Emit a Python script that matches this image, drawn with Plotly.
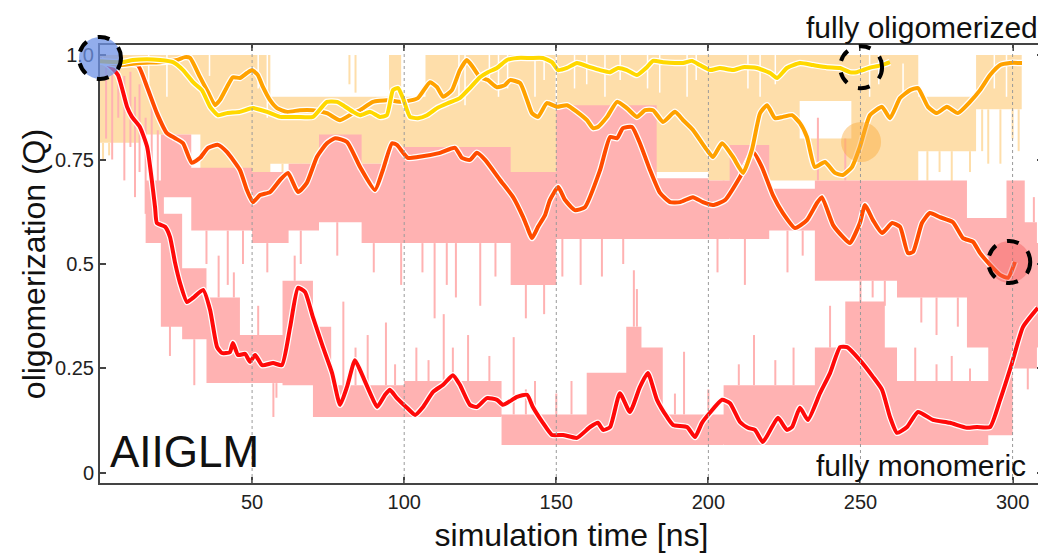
import plotly.graph_objects as go

# ---------------- data ----------------
x_range = [0, 310]
y_range = [-0.024, 1.024]
x_ticks = [50, 100, 150, 200, 250, 300]
y_ticks = [0, 0.25, 0.5, 0.75, 1.0]
y_ticktext = ["0", "0.25", "0.5", "0.75", "1.0"]

# smoothed traces: (time ns, Q)
red_line = [(0, 0.99), (3, 0.975), (5.9, 0.952), (8.9, 0.876), (10.5, 0.852), (13.1, 0.828), (15.5, 0.78),
            (18.1, 0.636), (18.7, 0.598), (21.4, 0.589), (23.0, 0.565), (24.7, 0.502), (26.3, 0.455),
            (28.6, 0.409), (30.6, 0.419), (33.9, 0.438), (36.2, 0.39), (38.5, 0.301), (40.1, 0.287),
            (42.7, 0.289), (43.7, 0.311), (45.4, 0.282), (47.7, 0.285), (49.3, 0.266), (51.0, 0.282),
            (53.3, 0.258), (56.9, 0.263), (59.8, 0.258), (62.5, 0.349), (65.1, 0.443), (67.4, 0.433),
            (70.0, 0.373), (73.3, 0.301), (76.3, 0.239), (78.9, 0.163), (81.2, 0.206), (83.8, 0.27),
            (85.5, 0.246), (88.8, 0.191), (91.1, 0.158), (93.7, 0.187), (95.3, 0.199), (97.6, 0.179),
            (100.9, 0.156), (103.6, 0.139), (106.2, 0.158), (109.5, 0.194), (112.8, 0.211), (116.0, 0.234),
            (118.3, 0.211), (121.6, 0.163), (123.9, 0.158), (127.2, 0.179), (130.5, 0.175), (132.5, 0.163),
            (137.1, 0.182), (140.4, 0.187), (142.3, 0.158), (145.6, 0.12), (148.6, 0.091), (152.2, 0.091),
            (156.8, 0.084), (161.1, 0.11), (163.7, 0.12), (165.4, 0.103), (167.7, 0.11), (170.9, 0.191),
            (174.2, 0.146), (177.5, 0.206), (180.1, 0.239), (183.1, 0.175), (186.4, 0.134), (188.4, 0.115),
            (193.0, 0.11), (195.6, 0.086), (197.9, 0.12), (200.5, 0.144), (204.5, 0.175), (207.1, 0.167),
            (210.4, 0.122), (213.0, 0.108), (215.3, 0.103), (217.9, 0.074), (220.9, 0.11), (222.9, 0.132),
            (225.8, 0.103), (227.5, 0.11), (230.1, 0.156), (232.7, 0.127), (236.7, 0.191), (240.0, 0.239),
            (243.3, 0.301), (245.6, 0.301), (249.8, 0.27), (254.1, 0.23), (257.1, 0.199), (259.7, 0.134),
            (262.0, 0.096), (265.3, 0.11), (268.9, 0.146), (273.8, 0.127), (279.4, 0.12), (285.0, 0.108),
            (288.3, 0.11), (292.6, 0.11), (295.9, 0.175), (299.8, 0.263), (303.4, 0.349), (308.3, 0.395)]

orange_red_line = [(0, 0.985), (8, 0.98), (12.5, 0.975), (15.5, 0.923), (18.7, 0.861), (22.0, 0.813),
                   (24.7, 0.801), (27.3, 0.789), (30.2, 0.742), (32.9, 0.754), (35.5, 0.778), (38.8, 0.785),
                   (41.7, 0.768), (46.0, 0.725), (48.3, 0.677), (50.3, 0.648), (52.6, 0.665), (55.9, 0.672),
                   (59.2, 0.701), (61.8, 0.718), (65.1, 0.672), (68.0, 0.694), (71.3, 0.756), (74.6, 0.789),
                   (77.3, 0.801), (81.2, 0.792), (85.5, 0.732), (90.4, 0.677), (93.0, 0.725), (96.0, 0.789),
                   (97.6, 0.785), (101.2, 0.754), (104.5, 0.756), (111.8, 0.766), (116.7, 0.778), (119.0, 0.754),
                   (121.6, 0.749), (123.9, 0.766), (126.6, 0.749), (131.5, 0.701), (135.8, 0.66), (139.1, 0.612),
                   (140.4, 0.589), (142.0, 0.562), (144.0, 0.589), (146.3, 0.617), (147.9, 0.653), (150.6, 0.684),
                   (152.9, 0.653), (156.1, 0.629), (159.4, 0.636), (164.4, 0.725), (167.7, 0.804), (170.0, 0.801),
                   (171.9, 0.825), (174.9, 0.828), (177.5, 0.789), (180.8, 0.725), (184.1, 0.67), (187.4, 0.648),
                   (190.7, 0.648), (194.9, 0.66), (198.2, 0.648), (201.5, 0.641), (205.5, 0.653), (210.4, 0.708),
                   (214.7, 0.768), (217.6, 0.732), (221.2, 0.665), (224.5, 0.622), (228.5, 0.586), (232.4, 0.605),
                   (235.7, 0.646), (237.3, 0.66), (241.0, 0.593), (244.2, 0.565), (246.5, 0.55), (249.8, 0.598),
                   (251.5, 0.641), (254.1, 0.605), (257.1, 0.574), (260.4, 0.598), (263.0, 0.589), (265.6, 0.526),
                   (267.3, 0.529), (270.2, 0.598), (272.8, 0.622), (276.1, 0.612), (280.4, 0.6), (283.7, 0.562),
                   (287.0, 0.553), (289.3, 0.526), (292.6, 0.498), (295.9, 0.474), (298.5, 0.467), (300.8, 0.505)]

orange_line = [(0, 0.985), (6.6, 0.976), (13.1, 0.981), (19.7, 0.983), (25.3, 0.988), (27.9, 0.995),
               (29.6, 0.993), (32.9, 0.947), (35.5, 0.911), (37.8, 0.88), (39.4, 0.892), (41.7, 0.923),
               (43.7, 0.947), (46.0, 0.945), (48.3, 0.957), (50.0, 0.964), (51.9, 0.952), (53.6, 0.923),
               (55.9, 0.892), (58.2, 0.873), (61.5, 0.864), (65.7, 0.868), (70.0, 0.868), (74.6, 0.861),
               (78.9, 0.844), (83.2, 0.861), (85.5, 0.868), (89.7, 0.888), (94.3, 0.892), (99.6, 0.888),
               (104.5, 0.897), (108.5, 0.935), (110.8, 0.923), (112.8, 0.9), (115.7, 0.916), (118.3, 0.964),
               (120.6, 0.988), (122.6, 0.971), (124.9, 0.947), (127.5, 0.94), (130.5, 0.923), (133.1, 0.928),
               (134.8, 0.94), (138.1, 0.933), (140.4, 0.892), (142.0, 0.861), (144.0, 0.852), (146.9, 0.885),
               (150.2, 0.876), (153.5, 0.88), (156.8, 0.864), (160.1, 0.844), (162.1, 0.825), (163.7, 0.828),
               (166.7, 0.852), (170.0, 0.888), (173.2, 0.873), (176.5, 0.852), (179.2, 0.868), (181.8, 0.868),
               (185.1, 0.84), (189.0, 0.864), (191.7, 0.844), (194.9, 0.821), (199.5, 0.773), (201.5, 0.756),
               (204.5, 0.789), (208.1, 0.756), (211.4, 0.718), (214.3, 0.773), (217.0, 0.861), (219.3, 0.88),
               (221.9, 0.849), (224.5, 0.852), (227.5, 0.856), (230.1, 0.837), (232.4, 0.804), (235.0, 0.732),
               (238.3, 0.744), (241.6, 0.718), (244.2, 0.713), (247.2, 0.732), (249.8, 0.78), (253.1, 0.856),
               (257.1, 0.876), (259.7, 0.849), (263.0, 0.897), (266.3, 0.916), (268.9, 0.921), (272.2, 0.876),
               (275.1, 0.861), (278.4, 0.876), (282.0, 0.861), (286.0, 0.888), (289.3, 0.916), (292.6, 0.952),
               (295.9, 0.976), (299.1, 0.981), (303.1, 0.981)]

yellow_line = [(0, 0.985), (7.2, 0.983), (10.8, 0.988), (15.5, 0.99), (19.7, 0.988), (24.0, 0.983),
               (27.3, 0.964), (30.6, 0.935), (33.5, 0.916), (36.2, 0.876), (38.8, 0.856), (41.7, 0.861),
               (46.0, 0.864), (50.3, 0.873), (54.9, 0.864), (59.2, 0.852), (64.8, 0.852), (70.0, 0.852),
               (74.6, 0.888), (77.9, 0.888), (79.9, 0.88), (83.2, 0.864), (85.5, 0.856), (88.8, 0.864),
               (92.0, 0.852), (94.3, 0.856), (96.3, 0.916), (98.0, 0.921), (99.6, 0.897), (101.9, 0.852),
               (104.5, 0.849), (107.5, 0.856), (110.8, 0.873), (114.4, 0.885), (118.3, 0.897), (121.6, 0.921),
               (124.9, 0.947), (127.5, 0.959), (130.5, 0.969), (133.8, 0.988), (137.1, 0.993), (141.4, 0.993),
               (145.6, 0.993), (148.6, 0.983), (150.6, 0.964), (153.5, 0.969), (156.8, 0.981), (161.1, 0.971),
               (164.4, 0.964), (167.7, 0.959), (170.3, 0.969), (173.2, 0.964), (176.5, 0.952), (179.8, 0.971),
               (181.8, 0.986), (185.1, 0.983), (189.0, 0.981), (191.7, 0.981), (194.6, 0.986), (197.2, 0.976),
               (200.5, 0.964), (203.8, 0.969), (208.1, 0.964), (211.4, 0.971), (216.0, 0.969), (220.3, 0.957),
               (222.6, 0.945), (225.8, 0.969), (230.1, 0.981), (234.4, 0.976), (239.0, 0.971), (243.3, 0.969),
               (246.5, 0.959), (248.8, 0.959), (250.8, 0.964), (253.8, 0.971), (257.1, 0.976), (259.7, 0.983)]

# raw (unsmoothed) data envelopes: (t_start, t_end, Q_low, Q_high)
oligo_raw_bands = [(0, 13, 0.79, 1.0), (13, 33, 0.81, 1.0), (33, 56, 0.72, 1.0), (56, 95, 0.74, 0.90),
                   (95, 99, 0.74, 1.0), (99, 107, 0.73, 0.90), (107, 200, 0.72, 1.0), (200, 230, 0.70, 1.0),
                   (230, 247, 0.89, 1.0), (230, 247, 0.70, 0.80), (247, 269, 0.70, 1.0), (269, 288, 0.77, 0.90),
                   (288, 303, 0.87, 1.0)]
oligo_raw_spikes = [(1, 0.75, 0.79), (3, 0.76, 0.79), (40, 0.66, 0.72), (60, 0.70, 0.74), (66, 0.68, 0.74),
                    (82, 0.93, 1.0), (84, 0.91, 1.0), (110, 0.60, 0.72), (125, 0.55, 0.72), (140, 0.62, 0.72),
                    (190, 0.60, 0.70), (205, 0.62, 0.70), (272, 0.70, 0.77), (276, 0.72, 0.77), (280, 0.66, 0.77),
                    (286, 0.72, 0.77), (290, 0.77, 0.87), (292, 0.74, 0.87), (296, 0.74, 0.87), (300, 0.80, 0.87),
                    (302, 0.77, 0.87)]
# times where the raw oligomerized trajectories leave the top level (white stripes): (t, Q_low, Q_high)
oligo_raw_gaps = [(16, 0.93, 1.0), (22, 0.90, 1.0), (36, 0.95, 1.0), (52, 0.92, 1.0), (55, 0.85, 1.0),
                  (118, 0.90, 1.0), (120, 0.88, 1.0), (128, 0.93, 1.0), (131, 0.90, 1.0), (134, 0.92, 1.0),
                  (143, 0.90, 1.0), (146, 0.94, 1.0), (150, 0.88, 1.0), (156, 0.92, 1.0), (160, 0.93, 1.0),
                  (166, 0.90, 1.0), (171, 0.94, 1.0), (180, 0.92, 1.0), (184, 0.91, 1.0), (193, 0.90, 1.0),
                  (196, 0.94, 1.0), (213, 0.92, 1.0), (217, 0.90, 1.0), (222, 0.93, 1.0), (253, 0.90, 1.0),
                  (256, 0.93, 1.0), (264, 0.90, 0.98), (294, 0.92, 1.0), (298, 0.90, 1.0)]

mono_raw_bands = [(15, 21, 0.55, 0.70), (20, 27, 0.35, 0.62), (27, 35, 0.32, 0.49), (35, 46, 0.215, 0.42),
                  (46, 60, 0.215, 0.33), (60, 70, 0.21, 0.46), (70, 76, 0.134, 0.35), (76, 100, 0.134, 0.21),
                  (100, 132, 0.134, 0.22), (132, 160, 0.067, 0.14), (160, 173, 0.067, 0.24), (173, 178, 0.067, 0.35),
                  (178, 185, 0.067, 0.30), (185, 205, 0.067, 0.14), (205, 235, 0.067, 0.21), (235, 245, 0.067, 0.30),
                  (245, 258, 0.067, 0.41), (258, 262, 0.067, 0.30), (262, 292, 0.067, 0.22), (292, 300, 0.09, 0.40),
                  (300, 308, 0.25, 0.60),
                  (20, 30, 0.66, 0.81), (30, 50, 0.58, 0.73), (50, 62, 0.55, 0.72), (62, 72, 0.58, 0.74),
                  (72, 86, 0.60, 0.81), (86, 95, 0.55, 0.74), (95, 135, 0.55, 0.78), (135, 150, 0.45, 0.72),
                  (150, 183, 0.56, 0.88), (183, 200, 0.56, 0.705), (200, 207, 0.56, 0.70), (207, 220, 0.56, 0.785),
                  (220, 235, 0.58, 0.68), (235, 262, 0.46, 0.70), (262, 285, 0.42, 0.70), (285, 298, 0.30, 0.61),
                  (298, 304, 0.30, 0.70), (304, 310, 0.30, 0.55)]
mono_raw_spikes = [(2, 0.80, 0.97), (4, 0.75, 0.96), (6, 0.85, 0.98), (8, 0.70, 0.95), (10, 0.78, 0.96),
                   (11.5, 0.66, 0.90), (13, 0.72, 0.93), (15, 0.62, 0.85), (17, 0.68, 0.90), (19, 0.60, 0.82),
                   (23, 0.28, 0.40), (31, 0.21, 0.32), (39, 0.42, 0.52), (44, 0.42, 0.48), (52, 0.33, 0.40),
                   (57, 0.134, 0.215), (58, 0.18, 0.215), (64, 0.46, 0.52),
                   (80, 0.21, 0.41), (84, 0.21, 0.30), (88, 0.21, 0.33), (94, 0.21, 0.36), (97, 0.21, 0.26),
                   (104, 0.22, 0.30), (108, 0.22, 0.27), (113, 0.22, 0.38), (116, 0.22, 0.30), (121, 0.22, 0.33),
                   (128, 0.22, 0.28), (136, 0.14, 0.325), (140, 0.14, 0.20), (143, 0.14, 0.22), (150, 0.14, 0.19),
                   (155, 0.14, 0.22), (175.5, 0.35, 0.485), (176.5, 0.35, 0.44), (183, 0.14, 0.22), (189, 0.14, 0.19),
                   (192, 0.14, 0.29), (200, 0.14, 0.20), (210, 0.21, 0.26), (215, 0.21, 0.33), (222, 0.21, 0.27),
                   (228, 0.21, 0.30), (240, 0.30, 0.40), (268, 0.22, 0.30), (275, 0.22, 0.26), (280, 0.22, 0.28),
                   (286, 0.22, 0.25),
                   (35, 0.50, 0.58), (42, 0.45, 0.58), (47, 0.50, 0.58), (55, 0.48, 0.55), (66, 0.50, 0.58),
                   (78, 0.52, 0.60), (90, 0.48, 0.55), (99, 0.45, 0.55), (106, 0.48, 0.55), (110, 0.37, 0.55),
                   (114, 0.45, 0.55), (117, 0.42, 0.55), (125, 0.40, 0.55), (130, 0.47, 0.55), (140, 0.37, 0.45),
                   (146, 0.38, 0.45), (152, 0.47, 0.56), (158, 0.45, 0.56), (165, 0.47, 0.56), (172, 0.50, 0.56),
                   (203, 0.48, 0.56), (212, 0.45, 0.56), (226, 0.48, 0.58), (231, 0.52, 0.58), (250, 0.38, 0.46),
                   (254, 0.42, 0.46), (258, 0.40, 0.46), (270, 0.36, 0.42), (275, 0.33, 0.42), (282, 0.35, 0.42),
                   (236, 0.70, 0.85), (245, 0.70, 0.80), (305, 0.20, 0.30), (307, 0.60, 0.66)]

# highlighted states: (time, Q)
start_state = (0.0, 0.993)
oligo_state = (250.2, 0.971)
oligo_mid_state = (250.2, 0.792)
mono_state = (298.9, 0.505)

# ---------------- styling ----------------
PINK = "rgb(255,178,178)"
LIGHT_ORANGE = "rgb(254,222,170)"
FONT = "Liberation Sans"


def rect_path(bands):
    xs, ys = [], []
    for t0, t1, lo, hi in bands:
        xs += [t0, t1, t1, t0, t0, None]
        ys += [lo, lo, hi, hi, lo, None]
    return xs, ys


def spike_path(spikes):
    xs, ys = [], []
    for t, lo, hi in spikes:
        xs += [t, t, None]
        ys += [lo, hi, None]
    return xs, ys


fig = go.Figure()


def add_band(bands, col):
    bx, by = rect_path(bands)
    fig.add_trace(go.Scatter(x=bx, y=by, mode="lines", fill="toself", fillcolor=col,
                             line=dict(width=0, color=col), hoverinfo="skip", showlegend=False))


def add_spikes(spikes, col, w):
    sx, sy = spike_path(spikes)
    fig.add_trace(go.Scatter(x=sx, y=sy, mode="lines", line=dict(width=w, color=col),
                             hoverinfo="skip", showlegend=False))


add_band(oligo_raw_bands, LIGHT_ORANGE)
add_spikes(oligo_raw_spikes, LIGHT_ORANGE, 2)
add_spikes(oligo_raw_gaps, "white", 1.5)
add_band(mono_raw_bands, PINK)
add_spikes(mono_raw_spikes, PINK, 2)

for data, col in [(red_line, "#ff0a0a"), (orange_red_line, "#ff4c00"),
                  (orange_line, "#ffa200"), (yellow_line, "#ffd800")]:
    t = [p[0] for p in data]
    q = [p[1] for p in data]
    fig.add_trace(go.Scatter(x=t, y=q, mode="lines", line=dict(width=6.5, color="white", shape="spline",
                                                               smoothing=0.5),
                             hoverinfo="skip", showlegend=False))
    fig.add_trace(go.Scatter(x=t, y=q, mode="lines", line=dict(width=4, color=col, shape="spline",
                                                               smoothing=0.5),
                             showlegend=False))

shapes = []
for xv in x_ticks:
    shapes.append(dict(type="line", xref="x", yref="paper", x0=xv, x1=xv, y0=0, y1=1,
                       line=dict(color="#9a9a9a", width=1, dash="dot"), layer="above"))


def to_paper(pt):
    return ((pt[0] - x_range[0]) / (x_range[1] - x_range[0]),
            (pt[1] - y_range[0]) / (y_range[1] - y_range[0]))


def circ(center, r, fill, dashed):
    px, py = to_paper(center)
    return dict(type="circle", xref="paper", yref="paper", xsizemode="pixel", ysizemode="pixel",
                xanchor=px, yanchor=py, x0=-r, x1=r, y0=-r, y1=r,
                fillcolor=fill, layer="above",
                line=dict(color="black", width=4 if dashed else 0, dash="dash"))


shapes.append(circ(oligo_mid_state, 20, "rgba(250,170,60,0.45)", False))
shapes.append(circ(start_state, 21, "rgba(110,145,230,0.75)", True))
shapes.append(circ(oligo_state, 21, "rgba(0,0,0,0)", True))
shapes.append(circ(mono_state, 21, "rgba(245,90,90,0.45)", True))

# the page body adds an 8px offset, margins compensate for it
fig.update_layout(
    width=1046, height=558,
    margin=dict(l=92, r=11, t=37, b=83, autoexpand=False),
    paper_bgcolor="white", plot_bgcolor="white",
    font=dict(family=FONT, color="#1a1a1a"),
    shapes=shapes,
    xaxis=dict(range=x_range, tickvals=x_ticks, ticks="inside", ticklen=6, tickwidth=1.5,
               tickcolor="#444", showline=True, linecolor="#444", linewidth=2, mirror="ticks",
               showgrid=False, zeroline=False, automargin=False,
               tickfont=dict(size=20, family=FONT, color="#222"),
               title=dict(text="simulation time [ns]", font=dict(size=32, family=FONT, color="#111"),
                          standoff=12)),
    yaxis=dict(range=y_range, tickvals=y_ticks, ticktext=y_ticktext, ticks="inside", ticklen=6,
               tickwidth=1.5, tickcolor="#444", showline=True, linecolor="#444", linewidth=2,
               mirror="ticks", showgrid=False, zeroline=False, automargin=False,
               tickfont=dict(size=20, family=FONT, color="#222"),
               title=dict(text="oligomerization (Q)", font=dict(size=32, family=FONT, color="#111"),
                          standoff=0)),
    annotations=[
        dict(text="fully oligomerized", xref="paper", yref="paper", x=0.997, y=1.039,
             xanchor="right", yanchor="middle", showarrow=False,
             font=dict(size=30, family=FONT, color="#111")),
        dict(text="fully monomeric", xref="paper", yref="paper", x=0.984, y=0.039,
             xanchor="right", yanchor="middle", showarrow=False,
             font=dict(size=30, family=FONT, color="#111")),
        dict(text="AIIGLM", xref="paper", yref="paper", x=0.009, y=0.071,
             xanchor="left", yanchor="middle", showarrow=False,
             font=dict(size=44, family=FONT, color="#111")),
    ],
)

fig.write_html("out.html")
